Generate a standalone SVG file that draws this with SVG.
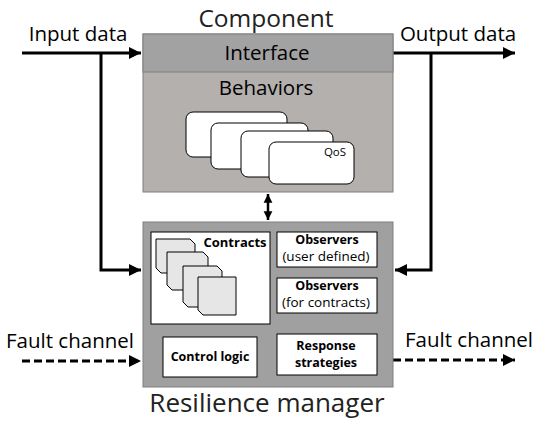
<svg xmlns="http://www.w3.org/2000/svg" width="539" height="422" viewBox="0 0 539 422">
<defs>
<marker id="ah" viewBox="0 0 10 10" refX="10" refY="5" markerWidth="4" markerHeight="4" orient="auto-start-reverse" markerUnits="strokeWidth">
<path d="M0,0 L10,5 L0,10 z" fill="#000"/>
</marker>
<marker id="ah2" viewBox="0 0 10 10" refX="10" refY="5" markerWidth="3.5" markerHeight="4" orient="auto-start-reverse" markerUnits="strokeWidth">
<path d="M0,0 L10,5 L0,10 z" fill="#000"/>
</marker>
</defs>
<style>
text{font-family:"Open Sans","Liberation Sans",sans-serif;fill:#000}
.big{font-size:26px;fill:#222}
.lbl{font-size:20.5px}
.mid{font-size:20.5px}
.card{fill:#fff;stroke:#000;stroke-width:1}
.chip{fill:#e6e6e6;stroke:#000;stroke-width:1}
.wbox{fill:#fff;stroke:#000;stroke-width:1}
.b{font-weight:bold;font-size:12.5px}
.n{font-size:13.5px}
.line{fill:none;stroke:#000;stroke-width:3}
.dash{fill:none;stroke:#000;stroke-width:3;stroke-dasharray:8,4}
</style>
<rect width="539" height="422" fill="#fff"/>
<g id="connectors">
<path class="line" d="M22,53 H141" marker-end="url(#ah)"/>
<path class="line" d="M101,53 V270 H141" marker-end="url(#ah)"/>
<path class="line" d="M393,53 H515" marker-end="url(#ah)"/>
<path class="line" d="M431,53 V270 H395" marker-end="url(#ah)"/>
<path class="dash" d="M22,361 H141" marker-end="url(#ah)"/>
<path class="dash" d="M393,360 H515" marker-end="url(#ah)"/>
<path fill="none" stroke="#000" stroke-width="2.5" d="M268,194 V220" marker-start="url(#ah2)" marker-end="url(#ah2)"/>
</g>
<g id="component">
<text class="big" x="266" y="27" text-anchor="middle" style="font-size:24.5px">Component</text>
<rect x="143" y="34" width="250" height="158" fill="#b3b0ae" stroke="#7f7f7f" stroke-width="1"/>
<rect x="143" y="34" width="250" height="38" fill="#a2a2a2" stroke="#7f7f7f" stroke-width="1"/>
<text class="mid" x="267" y="60" text-anchor="middle">Interface</text>
<text class="mid" x="266" y="95" text-anchor="middle">Behaviors</text>
</g>
<g id="behaviors">
<rect class="card" x="186" y="112" width="101" height="45" rx="7"/>
<rect class="card" x="211" y="123" width="97" height="46" rx="7"/>
<rect class="card" x="241" y="131" width="92" height="46" rx="7"/>
<rect class="card" x="269" y="142" width="85" height="42" rx="7"/>
<text x="335" y="156" text-anchor="middle" style="font-size:11.5px">QoS</text>
</g>
<g id="resilience-manager">
<rect x="143" y="222" width="250" height="165" fill="#a0a0a0" stroke="#7f7f7f" stroke-width="1"/>
<text class="big" x="267" y="412" text-anchor="middle">Resilience manager</text>
</g>
<g id="contracts">
<rect class="wbox" x="151" y="232" width="119" height="92"/>
<path class="chip" d="M156,239 H190 L195,244 V273 H161 L156,268 Z"/>
<path class="chip" d="M167,252 H203 L208,257 V290 H172 L167,285 Z"/>
<path class="chip" d="M183,266 H217 L222,271 V307 H188 L183,302 Z"/>
<path class="chip" d="M198,277 H236 V315 H203 L198,310 Z"/>
<text class="b" x="235" y="247" text-anchor="middle" style="font-size:13px">Contracts</text>
</g>
<g id="observers-user">
<rect class="wbox" x="277" y="232" width="100" height="35"/>
<text class="b" x="327" y="244" text-anchor="middle">Observers</text>
<text class="n" x="326" y="261" text-anchor="middle">(user defined)</text>
</g>
<g id="observers-contracts">
<rect class="wbox" x="277" y="278" width="100" height="35"/>
<text class="b" x="327" y="290" text-anchor="middle">Observers</text>
<text class="n" x="326" y="307" text-anchor="middle">(for contracts)</text>
</g>
<g id="control-logic">
<rect class="wbox" x="163" y="337" width="94" height="40"/>
<text class="b" x="210" y="361" text-anchor="middle">Control logic</text>
</g>
<g id="response-strategies">
<rect class="wbox" x="277" y="334" width="100" height="41"/>
<text class="b" x="326" y="350" text-anchor="middle">Response</text>
<text class="b" x="326" y="367" text-anchor="middle">strategies</text>
</g>
<g id="labels">
<text class="lbl" x="78" y="41" text-anchor="middle">Input data</text>
<text class="lbl" x="458" y="41" text-anchor="middle">Output data</text>
<text class="lbl" x="70" y="348" text-anchor="middle">Fault channel</text>
<text class="lbl" x="469" y="347" text-anchor="middle">Fault channel</text>
</g>
</svg>
